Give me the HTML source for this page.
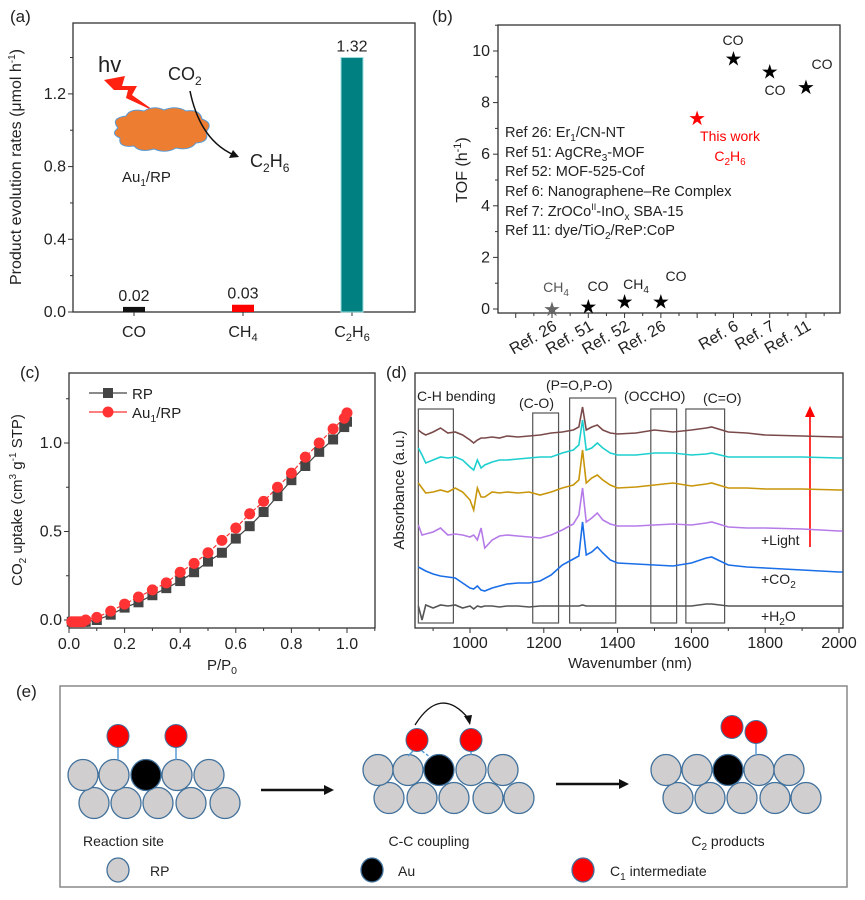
<!DOCTYPE html>
<html><head><meta charset="utf-8"><style>
html,body{margin:0;padding:0;background:#fff}
svg{display:block;font-family:"Liberation Sans",Arial,sans-serif}
text{fill:#222}
</style></head><body>
<svg id="fig" width="865" height="900" viewBox="0 0 865 900" xmlns="http://www.w3.org/2000/svg">
<text x="10" y="22" font-size="17">(a)</text>
<text x="432" y="22" font-size="17">(b)</text>
<text x="20" y="378" font-size="17">(c)</text>
<text x="386" y="378" font-size="17">(d)</text>
<text x="16" y="697" font-size="17">(e)</text>

<g>
<text x="98" y="72" font-size="22">hv</text>
<polygon points="104,80 125,76 122,86 137,86 132,95 156,112 126,98 128,90 114,90" fill="#f21"/>
<path d="M118,128 q-8,-10 8,-12 q4,-8 18,-5 q10,-6 20,-1 q12,-5 22,1 q14,-2 16,8 q12,4 4,13 q4,10 -10,11 q-6,8 -20,5 q-10,6 -22,1 q-14,4 -20,-3 q-16,2 -14,-8 q-10,-4 -2,-10z" fill="#ed7d31" stroke="#5b9bd5" stroke-width="1"/>
<text x="122" y="182" font-size="15">Au<tspan font-size="10" dy="4">1</tspan><tspan dy="-4">/RP</tspan></text>
<text x="168" y="80" font-size="18">CO<tspan font-size="12" dy="5">2</tspan></text>
<text x="250" y="167" font-size="18">C<tspan font-size="12" dy="5">2</tspan><tspan dy="-5">H</tspan><tspan font-size="12" dy="5">6</tspan></text>
<path d="M190,91 Q200,140 234,155" fill="none" stroke="#111" stroke-width="1.5"/>
<polygon points="239,157 229,158 233,150" fill="#111"/>
</g>

<g font-size="14.5">
<text x="505" y="137">Ref 26: Er<tspan font-size="10" dy="4">1</tspan><tspan dy="-4">/CN-NT</tspan></text>
<text x="505" y="157">Ref 51: AgCRe<tspan font-size="10" dy="4">3</tspan><tspan dy="-4">-MOF</tspan></text>
<text x="505" y="176">Ref 52: MOF-525-Cof</text>
<text x="505" y="196">Ref 6: Nanographene–Re Complex</text>
<text x="505" y="216">Ref 7: ZrOCo<tspan font-size="9" dy="-6">II</tspan><tspan dy="6">-InO</tspan><tspan font-size="10" dy="4">x</tspan><tspan dy="-4"> SBA-15</tspan></text>
<text x="505" y="235">Ref 11: dye/TiO<tspan font-size="10" dy="4">2</tspan><tspan dy="-4">/ReP:CoP</tspan></text>
</g>
<g font-size="14">
<text x="733" y="45" text-anchor="middle">CO</text>
<text x="775" y="95" text-anchor="middle">CO</text>
<text x="822" y="69" text-anchor="middle">CO</text>
<text x="730" y="141" text-anchor="middle" style="fill:#f00">This work</text>
<text x="730" y="161" text-anchor="middle" style="fill:#f00">C<tspan font-size="10" dy="4">2</tspan><tspan dy="-4">H</tspan><tspan font-size="10" dy="4">6</tspan></text>
<text x="556" y="292" text-anchor="middle" style="fill:#555">CH<tspan font-size="10" dy="4">4</tspan></text>
<text x="598" y="291" text-anchor="middle">CO</text>
<text x="636" y="289" text-anchor="middle">CH<tspan font-size="10" dy="4">4</tspan></text>
<text x="676" y="281" text-anchor="middle">CO</text>
</g>

<g font-size="14">
<text x="417" y="401">C-H bending</text>
<text x="519" y="408">(C-O)</text>
<text x="546" y="390">(P=O,P-O)</text>
<text x="624" y="401">(OCCHO)</text>
<text x="703" y="403">(C=O)</text>
<text x="761" y="545">+Light</text>
<text x="761" y="584">+CO<tspan font-size="10" dy="4">2</tspan></text>
<text x="761" y="621">+H<tspan font-size="10" dy="4">2</tspan><tspan dy="-4">O</tspan></text>
</g>
<line x1="810" y1="547" x2="810" y2="416" stroke="#f00" stroke-width="1.6"/>
<polygon points="810,406 805,417 815,417" fill="#f00"/>

<g id="pe">
<rect x="60" y="686" width="787" height="201" fill="#fff" stroke="#888" stroke-width="1.5"/>
<text x="83" y="846" font-size="14">Reaction site</text>
<text x="429" y="846" font-size="14" text-anchor="middle">C-C coupling</text>
<text x="728" y="846" font-size="14" text-anchor="middle">C<tspan font-size="10" dy="4">2</tspan><tspan dy="-4"> products</tspan></text>
<text x="150" y="876" font-size="14">RP</text>
<text x="398" y="876" font-size="14">Au</text>
<text x="610" y="876" font-size="14">C<tspan font-size="10" dy="4">1</tspan><tspan dy="-4"> intermediate</tspan></text>
<line x1="261" y1="790" x2="326" y2="790" stroke="#111" stroke-width="2.5"/>
<polygon points="334,790 324,785 324,795" fill="#111"/>
<line x1="556" y1="784" x2="621" y2="784" stroke="#111" stroke-width="2.5"/>
<polygon points="629,784 619,779 619,789" fill="#111"/>
<path d="M415,725 Q440,685 468,718" fill="none" stroke="#111" stroke-width="1.3"/>
<polygon points="470,725 464,716 472,715" fill="#111"/>
</g>
<g id="pa"></g><g id="pb"></g><g id="pc"></g><g id="pd"></g>
</svg>
<script>
const aCategories = ["CO","CH4","C2H6"];
const aValues = [0.028, 0.04, 1.40];
const aLabels = ["0.02","0.03","1.32"];
const aColors = ["#111","#f00","#008080"];

const bCategories = ["Ref. 26","Ref. 51","Ref. 52","Ref. 26","","Ref. 6","Ref. 7","Ref. 11"];
const bValues = [0, 0.1, 0.3, 0.3, 7.4, 9.7, 9.2, 8.6];
const bColors = ["#666","#000","#000","#000","#f00","#000","#000","#000"];
const bTicks = [0,2,4,6,8,10];

const cX = [0.01,0.02,0.03,0.04,0.05,0.06,0.1,0.15,0.2,0.25,0.3,0.35,0.4,0.45,0.5,0.55,0.6,0.65,0.7,0.75,0.8,0.85,0.9,0.95,0.99,1.0];
const cRP = [-0.01,-0.01,-0.01,-0.01,-0.01,-0.01,0.0,0.03,0.07,0.10,0.14,0.18,0.22,0.27,0.33,0.38,0.46,0.53,0.61,0.70,0.79,0.87,0.95,1.02,1.09,1.12];
const cAu = [-0.01,-0.01,-0.01,-0.01,-0.01,0.0,0.015,0.05,0.09,0.13,0.17,0.21,0.27,0.32,0.38,0.45,0.52,0.60,0.67,0.75,0.83,0.92,1.00,1.08,1.14,1.17];
const cXTicks = [0,0.2,0.4,0.6,0.8,1.0];
const cYTicks = [0,0.5,1.0];

const dX = [860,870,880,900,920,940,960,980,1000,1010,1020,1030,1040,1060,1080,1100,1130,1160,1190,1220,1250,1280,1295,1305,1315,1330,1345,1360,1380,1400,1450,1500,1550,1600,1640,1655,1700,1750,1800,1900,2000,2010];
const dH2O = [22,8,23,20,23,22,23,20,22,19,22,21,22,22,21,22,22,21,22,22,22,22,22,23,22,22,22,22,22,22,22,22,22,22,24,24,22,22,22,22,22,22];
const dCO2 = [61,59,57,54,52,51,50,45,40,39,42,38,37,40,42,44,45,45,47,53,63,69,72,106,73,76,81,75,68,65,64,63,62,65,70,71,63,61,60,58,56,56];
const dL1 = [103,93,94,96,100,93,94,93,91,93,88,100,80,88,92,93,92,91,90,93,98,104,113,140,106,110,115,108,104,102,102,103,104,103,105,106,101,100,100,99,97,97];
const dL2 = [145,140,135,136,138,136,140,136,128,118,140,131,131,136,135,136,135,136,133,136,140,143,148,178,145,150,153,148,143,140,141,143,145,142,144,145,140,140,139,139,138,138];
const dL3 = [180,173,165,168,171,170,171,168,161,158,168,160,163,166,168,168,169,170,171,171,175,178,183,208,178,180,185,180,175,173,173,175,175,173,174,175,171,171,171,171,170,170];
const dL4 = [198,195,193,196,200,195,196,193,188,185,188,190,190,191,190,192,191,192,193,195,196,198,201,221,198,201,203,198,195,194,195,198,196,198,200,201,196,195,193,192,191,191];
const dXTicks = [1000,1200,1400,1600,1800,2000];
const dBands = [[860,955],[1170,1240],[1270,1395],[1490,1560],[1585,1690]];
const dBandTops = [409,413,398,409,409];

const eTopRows = [[83,114,146,177,209],[378,408,439,471,503],[666,697,728,759,789]];
const eBotRows = [[94,126,158,191,225],[389,422,454,488,519],[678,710,742,775,806]];

const NS="http://www.w3.org/2000/svg";
function mk(tag, attrs, parent){const e=document.createElementNS(NS,tag);for(const k in attrs)e.setAttribute(k,attrs[k]);parent.appendChild(e);return e;}
function lin(d0,d1,r0,r1){return v=>r0+(v-d0)/(d1-d0)*(r1-r0);}
function sub(t, s){
  const parts=s.split(/(_\d|_x)/);
  let low=false;
  parts.forEach(p=>{ if(!p)return;
    if(p[0]==='_'){const ts=mk('tspan',{'font-size':'0.7em',dy:low?0:4},t);ts.textContent=p.slice(1);low=true;}
    else {const ts=mk('tspan',{dy:low?-4:0},t);ts.textContent=p;low=false;}
  });
}
const AX="#333";
const TF=16;

(function(){
  const g=document.getElementById('pa');
  const L=73,R=415,T=23,B=312;
  const y=lin(0,1.59,B,T);
  const x=lin(0,2,134,352);
  const frame=mk('rect',{x:L,y:T,width:R-L,height:B-T,fill:'none',stroke:AX,'stroke-width':1.3},g);
  
  
  for(let v=0;v<=1.5;v+=0.2){const yy=y(v);const major=Math.abs(v/0.4-Math.round(v/0.4))<1e-6;
    mk('line',{x1:L,x2:L-(major?5:3),y1:yy,y2:yy,stroke:AX},g);
    if(major){const t=mk('text',{x:L-7,y:yy+5,'font-size':TF,'text-anchor':'end'},g);t.textContent=v.toFixed(1);
      
      }
  }
  aCategories.forEach((c,i)=>{
    const cx=x(i);
    mk('line',{x1:cx,x2:cx,y1:B,y2:B+4,stroke:AX},g);
    const b=mk('rect',{x:cx-11,y:y(aValues[i]),width:22,height:B-y(aValues[i]),fill:aColors[i],stroke:i==2?'#9dd':'none','stroke-width':1},g);
    
    
    const lt=mk('text',{x:cx,y:y(aValues[i])-6,'font-size':16,'text-anchor':'middle'},g);lt.textContent=aLabels[i];
    
    
    const ct=mk('text',{x:cx,y:B+25,'font-size':16,'text-anchor':'middle'},g);
    sub(ct,c.replace(/(\d)/g,'_$1'));
    
    
  });
  const yt=mk('text',{transform:'translate(21,167) rotate(-90)','font-size':16,'text-anchor':'middle'},g);
  yt.innerHTML='Product evolution rates (μmol h<tspan font-size="10" dy="-6">-1</tspan><tspan dy="6">)</tspan>';
  
  
})();

(function(){
  const g=document.getElementById('pb');
  const L=498,R=840,T=25,B=313;
  const y=lin(0,10,309,51);
  const x=lin(0,7,552,806);
  const frame=mk('rect',{x:L,y:T,width:R-L,height:B-T,fill:'none',stroke:AX,'stroke-width':1.3},g);
  
  
  bTicks.forEach(v=>{const yy=y(v);mk('line',{x1:L,x2:L-5,y1:yy,y2:yy,stroke:AX},g);
    mk('line',{x1:L,x2:L-3,y1:y(v+1),y2:y(v+1),stroke:AX},g);
    const t=mk('text',{x:L-8,y:yy+5,'font-size':TF,'text-anchor':'end'},g);t.textContent=v;
    
    });
  for(let i=-1.5;i<=8;i+=0.5){const xx=x(i);if(xx<L||xx>R)continue;mk('line',{x1:xx,x2:xx,y1:B,y2:B+(Number.isInteger(i)?5:3),stroke:AX},g);}
  bCategories.forEach((c,i)=>{
    const xx=x(i);
    const s=mk('text',{x:xx,y:y(bValues[i])+7,'font-size':20,'text-anchor':'middle',style:'fill:'+bColors[i]},g);
    s.textContent='★';
    
    
    if(c){const t=mk('text',{x:xx+6,y:B+16,'font-size':TF,'text-anchor':'end',transform:`rotate(-30 ${xx+6} ${B+16})`},g);t.textContent=c;
      
      }
  });
  const yt=mk('text',{transform:'translate(467,170) rotate(-90)','font-size':16,'text-anchor':'middle'},g);
  yt.innerHTML='TOF (h<tspan font-size="11" dy="-6">-1</tspan><tspan dy="6">)</tspan>';
  
  
})();

(function(){
  const g=document.getElementById('pc');
  const L=69,R=375,T=373,B=628;
  const x=lin(0,1,69,347), y=lin(0,1,620,443);
  const frame=mk('rect',{x:L,y:T,width:R-L,height:B-T,fill:'none',stroke:AX,'stroke-width':1.3},g);
  
  
  cXTicks.forEach(v=>{const xx=x(v);mk('line',{x1:xx,x2:xx,y1:B,y2:B+5,stroke:AX},g);mk('line',{x1:x(v+0.1),x2:x(v+0.1),y1:B,y2:B+3,stroke:AX},g);
    const t=mk('text',{x:xx,y:B+21,'font-size':TF,'text-anchor':'middle'},g);t.textContent=v.toFixed(1);
    
    });
  cYTicks.forEach(v=>{const yy=y(v);mk('line',{x1:L,x2:L-5,y1:yy,y2:yy,stroke:AX},g);mk('line',{x1:L,x2:L-3,y1:y(v+0.25),y2:y(v+0.25),stroke:AX},g);
    const t=mk('text',{x:L-7,y:yy+5,'font-size':TF,'text-anchor':'end'},g);t.textContent=v.toFixed(1);
    
    });
  const p1=mk('polyline',{points:cX.map((v,i)=>x(v)+','+y(cRP[i])).join(' '),fill:'none',stroke:'#444','stroke-width':1.2},g);
  
  
  const p2=mk('polyline',{points:cX.map((v,i)=>x(v)+','+y(cAu[i])).join(' '),fill:'none',stroke:'#f33','stroke-width':1.2,'stroke-dasharray':'4 2'},g);
  
  
  cX.forEach((v,i)=>{const m=mk('rect',{x:x(v)-5,y:y(cRP[i])-5,width:10,height:10,fill:'#444'},g);
    
    });
  cX.forEach((v,i)=>{const m=mk('circle',{cx:x(v),cy:y(cAu[i]),r:5.5,fill:'#f33'},g);
    
    });
  mk('line',{x1:89,x2:127,y1:393,y2:393,stroke:'#444','stroke-width':1.2},g);
  mk('rect',{x:103,y:388,width:10,height:10,fill:'#444'},g);
  mk('line',{x1:89,x2:127,y1:412,y2:412,stroke:'#f33','stroke-width':1.2},g);
  mk('circle',{cx:108,cy:412,r:5.5,fill:'#f33'},g);
  const l1=mk('text',{x:132,y:399,'font-size':15},g);l1.textContent='RP';
  
  
  const l2=mk('text',{x:132,y:418,'font-size':15},g);sub(l2,'Au_1/RP');
  
  
  const xt=mk('text',{x:222,y:670,'font-size':15,'text-anchor':'middle'},g);sub(xt,'P/P_0');
  
  
  const yt=mk('text',{transform:'translate(22,500) rotate(-90)','font-size':15,'text-anchor':'middle'},g);
  yt.innerHTML='CO<tspan font-size="10" dy="4">2</tspan><tspan dy="-4"> uptake (cm</tspan><tspan font-size="10" dy="-6">3</tspan><tspan dy="6"> g</tspan><tspan font-size="10" dy="-6">-1</tspan><tspan dy="6"> STP)</tspan>';
  
  
})();

(function(){
  const g=document.getElementById('pd');
  const L=415,R=843,T=373,B=628;
  const x=lin(1000,2000,470,839), y=lin(0,255,628,373);
  const frame=mk('rect',{x:L,y:T,width:R-L,height:B-T,fill:'none',stroke:AX,'stroke-width':1.3},g);
  
  
  dXTicks.forEach(v=>{const xx=x(v);mk('line',{x1:xx,x2:xx,y1:B,y2:B+5,stroke:AX},g);mk('line',{x1:x(v-100),x2:x(v-100),y1:B,y2:B+3,stroke:AX},g);
    const t=mk('text',{x:xx,y:B+20,'font-size':TF,'text-anchor':'middle'},g);t.textContent=v;
    
    });
  dBands.forEach((b,i)=>{const r=mk('rect',{x:x(b[0]),y:dBandTops[i],width:x(b[1])-x(b[0]),height:623-dBandTops[i],fill:'none',stroke:'#555','stroke-width':1.2},g);
    
    });
  const series=[[dH2O,'#555','h2o-spectrum'],[dCO2,'#1a6ee8','co2-spectrum'],[dL1,'#b57be8','light-spectrum-1'],[dL2,'#c8960a','light-spectrum-2'],[dL3,'#1ecfcf','light-spectrum-3'],[dL4,'#7a4a4a','light-spectrum-4']];
  series.forEach(s=>{const p=mk('polyline',{points:dX.map((v,i)=>x(v)+','+y(s[0][i])).join(' '),fill:'none',stroke:s[1],'stroke-width':1.6},g);
    
    });
  const xt=mk('text',{x:630,y:668,'font-size':15,'text-anchor':'middle'},g);xt.textContent='Wavenumber (nm)';
  
  
  const yt=mk('text',{transform:'translate(404,490) rotate(-90)','font-size':15,'text-anchor':'middle'},g);yt.textContent='Absorbance (a.u.)';
  
  
})();

(function(){
  const g=document.getElementById('pe');
  const topY=[775,770,770], botY=[803,798,798];
  eBotRows.forEach((row,k)=>row.forEach(cx=>{const c=mk('ellipse',{cx:cx,cy:botY[k],rx:15,ry:15.5,fill:'#d0cece',stroke:'#41719c','stroke-width':1.3},g);
    
    }));
  eTopRows.forEach((row,k)=>row.forEach((cx,j)=>{const c=mk('ellipse',{cx:cx,cy:topY[k],rx:15,ry:15.5,fill:j==2?'#000':'#d0cece',stroke:'#41719c','stroke-width':1.3},g);
    
    }));
  const reds=[[118,736],[176,736],[417,740],[471,740],[732,727],[756,732]];
  const sticks=[[118,747,118,760],[176,747,176,760],[413,751,408,756],[471,751,471,755],[756,743,756,755]];
  sticks.forEach(s=>mk('line',{x1:s[0],y1:s[1],x2:s[2],y2:s[3],stroke:'#5b9bd5','stroke-width':1.5},g));
  mk('line',{x1:422,y1:751,x2:430,y2:757,stroke:'#5b9bd5','stroke-width':1.5,'stroke-dasharray':'3 2'},g);
  reds.forEach(r=>{const c=mk('ellipse',{cx:r[0],cy:r[1],rx:11,ry:11.5,fill:'#f00',stroke:'#41719c','stroke-width':1},g);
    
    });
  const lg=[[118,870,'#d0cece'],[372,870,'#000'],[583,870,'#f00']];
  lg.forEach(l=>{const c=mk('ellipse',{cx:l[0],cy:l[1],rx:11,ry:12,fill:l[2],stroke:'#41719c','stroke-width':1.3},g);
    
    });
})();
</script>
</body></html>
